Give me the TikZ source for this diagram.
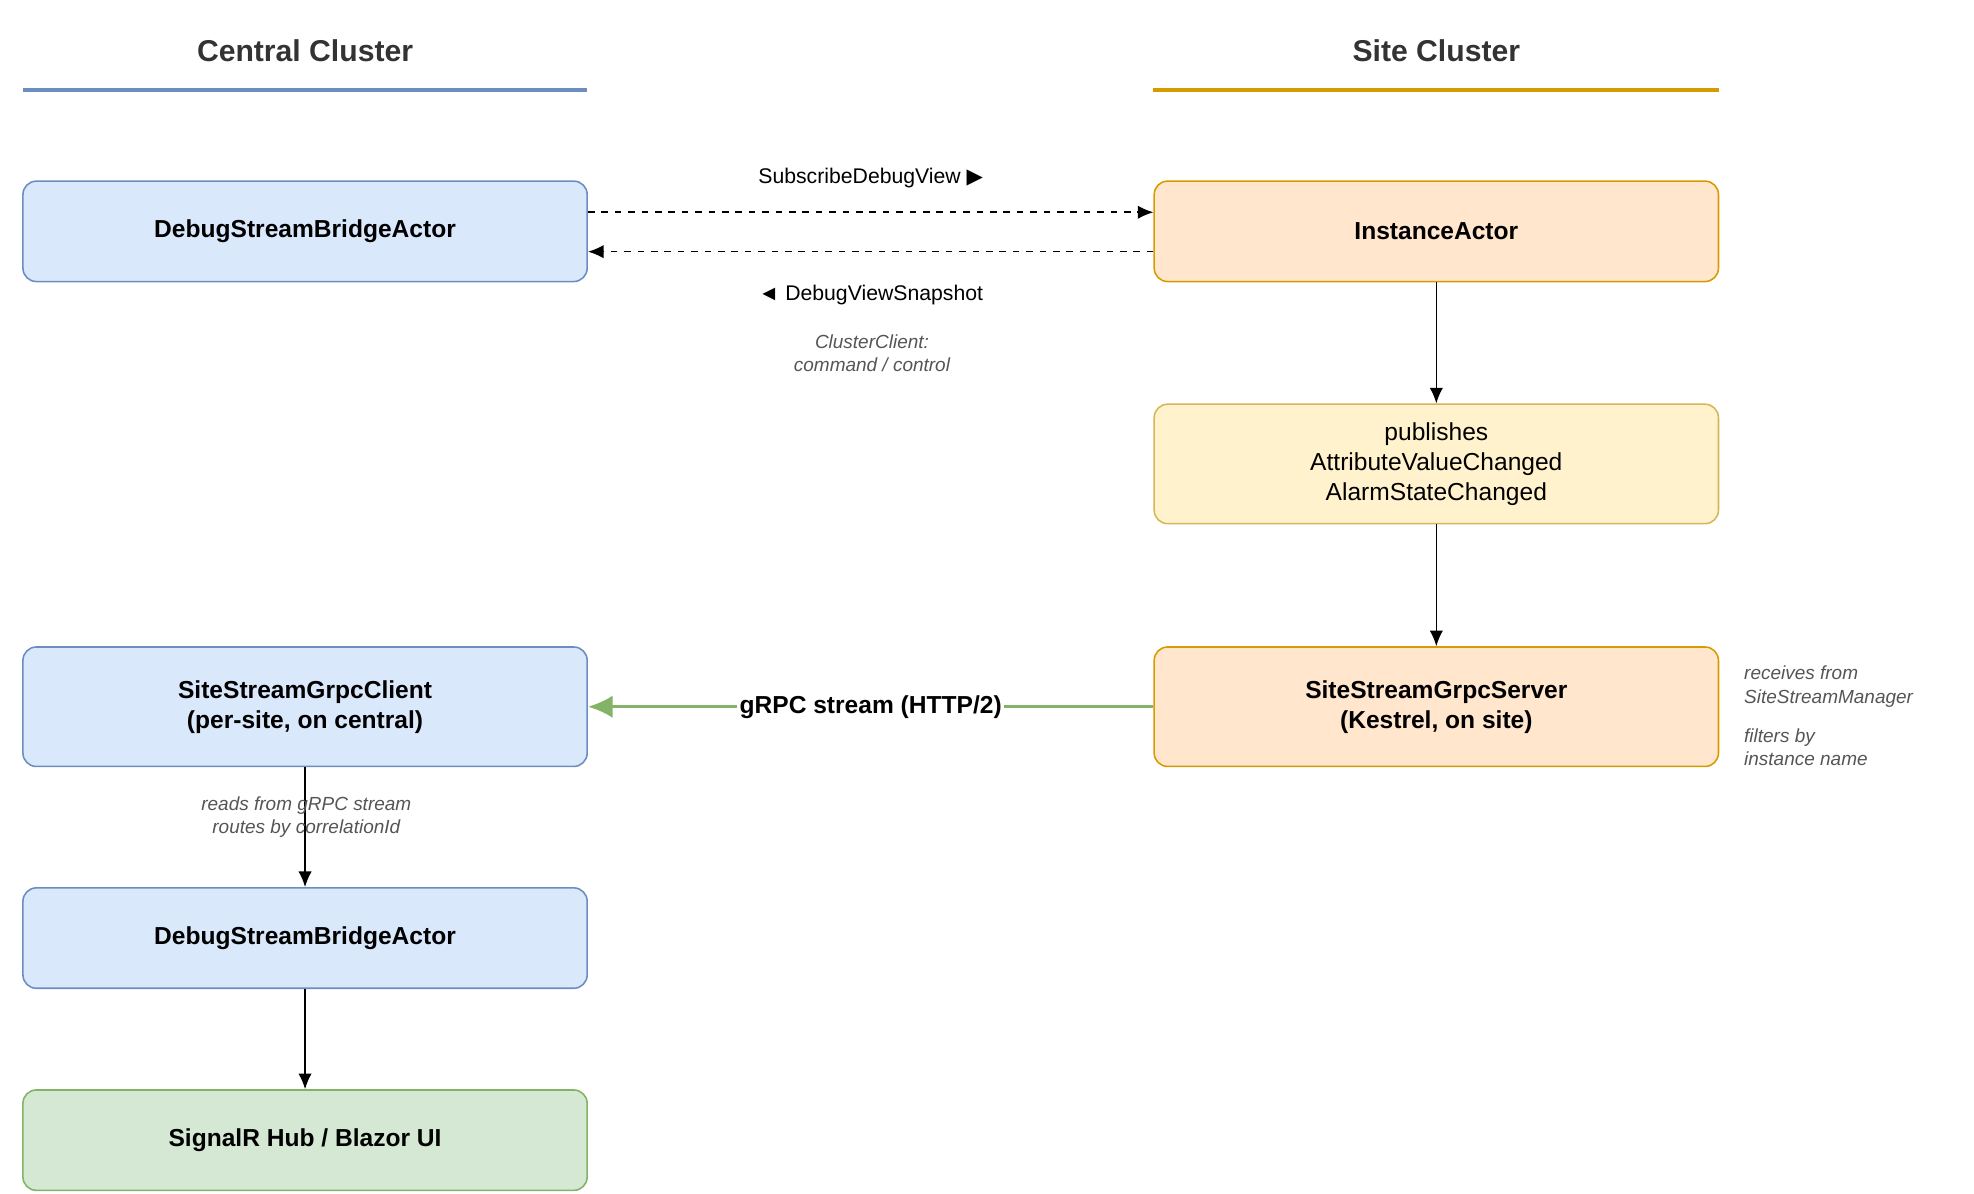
\documentclass[tikz,border=0pt]{standalone}
\usepackage{fontspec}
\setmainfont{Liberation Sans}
\newfontfamily\symfont{DejaVu Sans}
\usetikzlibrary{arrows.meta}
\definecolor{blueF}{HTML}{DAE8FC}\definecolor{blueD}{HTML}{6C8EBF}
\definecolor{orgF}{HTML}{FFE6CC}\definecolor{orgD}{HTML}{D79B00}
\definecolor{ylwF}{HTML}{FFF2CC}\definecolor{ylwD}{HTML}{D6B656}
\definecolor{grnF}{HTML}{D5E8D4}\definecolor{grnD}{HTML}{82B366}
\definecolor{titleC}{HTML}{333333}\definecolor{noteC}{HTML}{555555}
\tikzset{
  box/.style={draw, rounded corners=6pt, line width=0.7pt, minimum width=8.88cm, align=center, font=\fontsize{11}{13.5}\selectfont},
  short/.style={minimum height=1.58cm},
  tall/.style={minimum height=1.88cm},
  central/.style={box, fill=blueF, draw=blueD, font=\fontsize{11}{13.5}\selectfont\bfseries},
  site/.style={box, fill=orgF, draw=orgD, font=\fontsize{11}{13.5}\selectfont\bfseries},
  title/.style={font=\fontsize{13.5}{16}\selectfont\bfseries, text=titleC},
  note/.style={font=\fontsize{8.5}{10.5}\selectfont\itshape, text=noteC, align=center},
  lbl/.style={font=\fontsize{9.5}{11}\selectfont},
  flow/.style={-{Latex[length=7pt,width=6pt]}, line width=0.7pt},
}
\begin{document}
\begin{tikzpicture}[x=0.02cm, y=-0.02cm]
\useasboundingbox (0,0) rectangle (1553,939);
% headers
\node[title] (ctitle) at (240,40) {Central Cluster};
\node[title] (stitle) at (1130,40) {Site Cluster};
\draw[blueD, line width=1.6pt] (18,71) -- (462,71);
\draw[orgD, line width=1.6pt] (907,71) -- (1352,71);
% boxes
\node[central, short] (bridge) at (240,182) {DebugStreamBridgeActor};
\node[site, short] (inst) at (1130,182) {InstanceActor};
\node[box, tall, fill=ylwF, draw=ylwD] (pub) at (1130,365) {publishes\\AttributeValueChanged\\AlarmStateChanged};
\node[site, tall] (server) at (1130,556) {SiteStreamGrpcServer\\(Kestrel, on site)};
\node[central, tall] (client) at (240,556) {SiteStreamGrpcClient\\(per-site, on central)};
\node[central, short] (bridge2) at (240,738) {DebugStreamBridgeActor};
\node[box, short, fill=grnF, draw=grnD, font=\fontsize{11}{13.5}\selectfont\bfseries] (hub) at (240,897) {SignalR Hub / Blazor UI};
% connectors
\draw[flow, dashed] (bridge.east |- 0,167) -- (inst.west |- 0,167);
\draw[flow, dashed] (inst.west |- 0,198) -- (bridge.east |- 0,198);
\node[lbl] (sub) at (685,140) {SubscribeDebugView {\symfont▶}};
\node[lbl] (snap) at (685,232) {◄ DebugViewSnapshot};
\node[note] (cc) at (686,278) {ClusterClient:\\command / control};
\draw[flow] (inst) -- (pub);
\draw[flow] (pub) -- (server);
\draw[flow, draw=grnD, line width=1.4pt, -{Latex[length=11pt,width=10pt]}] (server) -- (client)
  node[midway, fill=white, inner sep=1pt, font=\fontsize{11}{13.5}\selectfont\bfseries] {gRPC stream (HTTP/2)};
\draw[flow] (client) -- (bridge2);
\node[note] (reads) at (241,643) {reads from gRPC stream\\routes by correlationId};
\draw[flow] (bridge2) -- (hub);
\node[note, align=left, anchor=west] (recv) at (1366,540) {receives from\\SiteStreamManager};
\node[note, align=left, anchor=west] (filt) at (1366,588) {filters by\\instance name};
\end{tikzpicture}
\end{document}
